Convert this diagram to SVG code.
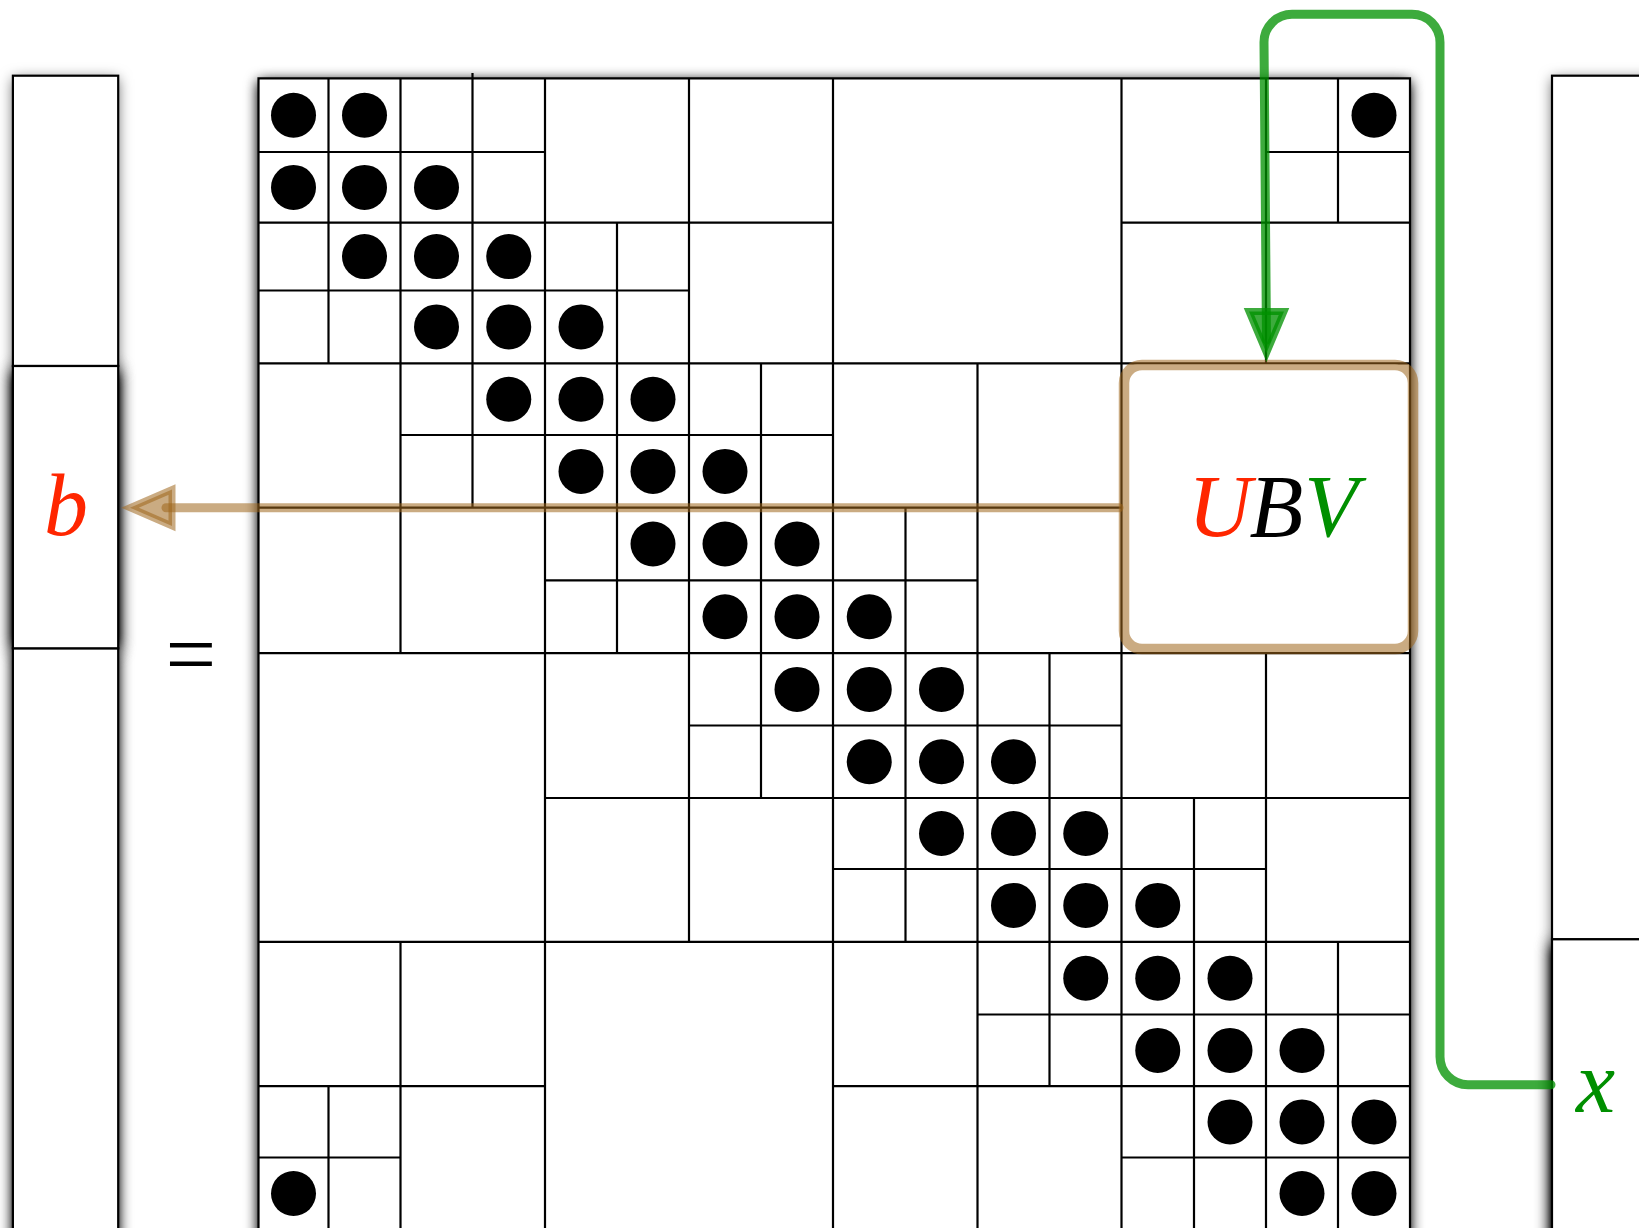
<svg xmlns="http://www.w3.org/2000/svg" width="1639" height="1228" viewBox="0 0 1639 1228">
<defs>
<filter id="shL" filterUnits="userSpaceOnUse" x="-50" y="-50" width="1750" height="1350">
<feGaussianBlur in="SourceAlpha" stdDeviation="7"/>
<feOffset dy="3" result="b"/>
<feFlood flood-color="#000" flood-opacity="0.6"/>
<feComposite in2="b" operator="in"/>
</filter>
<filter id="shM" filterUnits="userSpaceOnUse" x="-50" y="-50" width="1750" height="1350">
<feGaussianBlur in="SourceAlpha" stdDeviation="7"/>
<feOffset dy="3" result="b"/>
<feFlood flood-color="#000" flood-opacity="1"/>
<feComposite in2="b" operator="in"/>
<feComponentTransfer><feFuncA type="linear" slope="1.3"/></feComponentTransfer>
</filter>
<filter id="shS" filterUnits="userSpaceOnUse" x="-50" y="-50" width="1750" height="1350">
<feGaussianBlur in="SourceAlpha" stdDeviation="8"/>
<feOffset dy="3" result="b"/>
<feFlood flood-color="#000" flood-opacity="1"/>
<feComposite in2="b" operator="in"/>
<feComponentTransfer><feFuncA type="linear" slope="1.8"/></feComponentTransfer>
</filter>
<style>
.grid{fill:none;stroke:#000;stroke-width:2.2;stroke-linecap:square}
.dot{fill:#000}
.vec{fill:#fff;stroke:#000;stroke-width:2.2}
.lbl{font-family:"Liberation Serif","Times New Roman",serif;font-style:italic;font-size:88px}
.eq{font-family:"Liberation Serif","Times New Roman",serif;font-size:90px;fill:#000}
.red{fill:#ff2600}
.grn{fill:#008f00}
.brn{stroke:rgb(158,102,28);stroke-opacity:0.55}
.brnf{fill:rgb(158,102,28);fill-opacity:0.55}
.gln{stroke:rgb(0,145,0);stroke-opacity:0.76}
.glnf{fill:rgb(0,145,0);fill-opacity:0.76}
</style>
</defs>
<rect width="1639" height="1228" fill="#fff"/>
<g id="shadows" fill="#000">
<rect x="12.9" y="75.7" width="105.3" height="290.3" filter="url(#shL)"/>
<rect x="12.9" y="648.3" width="105.3" height="600" filter="url(#shM)"/>
<rect x="12.9" y="366" width="105.3" height="282.3" filter="url(#shS)"/>
<rect x="258.5" y="78.3" width="1151.5" height="1170" filter="url(#shM)"/>
<rect x="1552" y="75.7" width="200" height="863.6" filter="url(#shL)"/>
<rect x="1552" y="939.3" width="200" height="320" filter="url(#shS)"/>
</g>
<g id="vector-b">
<rect class="vec" x="12.9" y="75.7" width="105.3" height="290.3"/>
<rect class="vec" x="12.9" y="648.3" width="105.3" height="600"/>
<rect class="vec" x="12.9" y="366" width="105.3" height="282.3"/>
<text class="lbl red" x="44" y="535">b</text>
</g>
<g id="equals">
<text class="eq" x="191" y="685" text-anchor="middle">=</text>
</g>
<g id="matrix">
<rect x="258.5" y="78.3" width="1151.5" height="1170" fill="#fff"/>
<path class="grid" d="M258.5 78.3H1410 M258.5 152H545 M1266 152H1410 M258.5 222.7H833 M1121.5 222.7H1410 M258.5 290.5H689 M258.5 363.3H1410 M400.5 435H833 M258.5 507.7H1121.5 M545 580.3H977.5 M258.5 653.2H1410 M689 725.5H1121.5 M545 798H1410 M833 869H1266 M258.5 941.8H1410 M977.5 1014.5H1410 M258.5 1086.2H545 M833 1086.2H1410 M258.5 1157.5H400.5 M1121.5 1157.5H1410 M258.5 1229.5H1410
M258.5 78.3V1229.5 M328.5 78.3V363.3 M328.5 1086.2V1229.5 M400.5 78.3V653.2 M400.5 941.8V1229.5 M472.5 74V507.7 M545 78.3V1229.5 M617 222.7V653.2 M689 78.3V941.8 M761 363.3V798 M833 78.3V1229.5 M905.5 507.7V941.8 M977.5 363.3V1229.5 M1049.5 653.2V1086.2 M1121.5 78.3V1229.5 M1194 798V1229.5 M1266 78.3V363.3 M1266 653.2V1229.5 M1338 78.3V222.7 M1338 941.8V1229.5 M1410 78.3V1229.5"/>
<g class="dot">
<circle cx="293.5" cy="115.2" r="22.5"/><circle cx="364.5" cy="115.2" r="22.5"/><circle cx="1374" cy="115.2" r="22.5"/>
<circle cx="293.5" cy="187.4" r="22.5"/><circle cx="364.5" cy="187.4" r="22.5"/><circle cx="436.5" cy="187.4" r="22.5"/>
<circle cx="364.5" cy="256.6" r="22.5"/><circle cx="436.5" cy="256.6" r="22.5"/><circle cx="508.75" cy="256.6" r="22.5"/>
<circle cx="436.5" cy="326.9" r="22.5"/><circle cx="508.75" cy="326.9" r="22.5"/><circle cx="581" cy="326.9" r="22.5"/>
<circle cx="508.75" cy="399.2" r="22.5"/><circle cx="581" cy="399.2" r="22.5"/><circle cx="653" cy="399.2" r="22.5"/>
<circle cx="581" cy="471.4" r="22.5"/><circle cx="653" cy="471.4" r="22.5"/><circle cx="725" cy="471.4" r="22.5"/>
<circle cx="653" cy="544" r="22.5"/><circle cx="725" cy="544" r="22.5"/><circle cx="797" cy="544" r="22.5"/>
<circle cx="725" cy="616.8" r="22.5"/><circle cx="797" cy="616.8" r="22.5"/><circle cx="869.25" cy="616.8" r="22.5"/>
<circle cx="797" cy="689.4" r="22.5"/><circle cx="869.25" cy="689.4" r="22.5"/><circle cx="941.5" cy="689.4" r="22.5"/>
<circle cx="869.25" cy="761.8" r="22.5"/><circle cx="941.5" cy="761.8" r="22.5"/><circle cx="1013.5" cy="761.8" r="22.5"/>
<circle cx="941.5" cy="833.5" r="22.5"/><circle cx="1013.5" cy="833.5" r="22.5"/><circle cx="1085.75" cy="833.5" r="22.5"/>
<circle cx="1013.5" cy="905.4" r="22.5"/><circle cx="1085.75" cy="905.4" r="22.5"/><circle cx="1157.75" cy="905.4" r="22.5"/>
<circle cx="1085.75" cy="978.2" r="22.5"/><circle cx="1157.75" cy="978.2" r="22.5"/><circle cx="1230" cy="978.2" r="22.5"/>
<circle cx="1157.75" cy="1050.4" r="22.5"/><circle cx="1230" cy="1050.4" r="22.5"/><circle cx="1302" cy="1050.4" r="22.5"/>
<circle cx="1230" cy="1121.9" r="22.5"/><circle cx="1302" cy="1121.9" r="22.5"/><circle cx="1374" cy="1121.9" r="22.5"/>
<circle cx="293.5" cy="1193.5" r="22.5"/><circle cx="1302" cy="1193.5" r="22.5"/><circle cx="1374" cy="1193.5" r="22.5"/>
</g>
</g>
<g id="vector-x">
<rect class="vec" x="1552" y="75.7" width="200" height="863.6"/>
<rect class="vec" x="1552" y="939.3" width="200" height="320"/>
<text class="lbl grn" x="1576" y="1112">x</text>
</g>
<g id="box-UBV">
<rect x="1123" y="364.5" width="286" height="287.5" rx="14" fill="#fff"/>
<rect class="brn" x="1124" y="365" width="289" height="284" rx="18" fill="none" stroke-width="10.5"/>
<text class="lbl" x="1188" y="536"><tspan class="red">U</tspan><tspan fill="#000" dx="-2">B</tspan><tspan class="grn" dx="1">V</tspan></text>
</g>
<g id="connectors" fill="none">
<path class="brn" d="M1119 507.7H166" stroke-width="9" stroke-linecap="round"/>
<polygon class="brn brnf" points="130,507.7 172,489.5 172,525.9" stroke-width="7"/>
<path class="gln" d="M1551 1084.7H1468A28 28 0 0 1 1440 1056.7V42.3A28 28 0 0 0 1412 14.3H1292A28 28 0 0 0 1264 42.3L1266.5 340" stroke-width="9" stroke-linecap="round" stroke-linejoin="round"/>
<polygon class="gln glnf" points="1249,311.5 1284,311.5 1266.5,353" stroke-width="7"/>
</g>
</svg>
